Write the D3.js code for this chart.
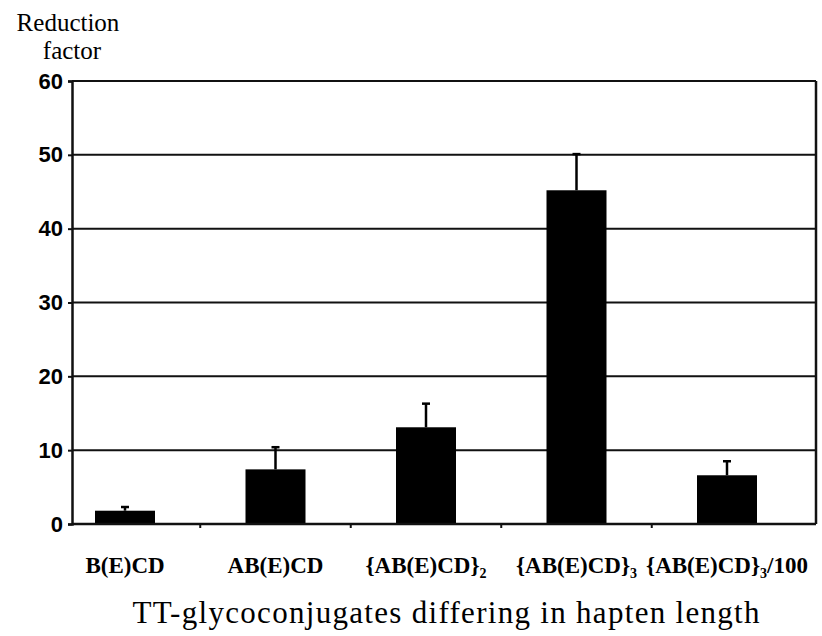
<!DOCTYPE html>
<html>
<head>
<meta charset="utf-8">
<script src="https://cdn.jsdelivr.net/npm/d3@7"></script>
<style>
  body { margin: 0; background: #fff; }
  svg { display: block; }
</style>
</head>
<body>
<div id="chart"></div>
<script>
"use strict";

// categories: base name + optional subscript + optional suffix
var categories = ["B(E)CD", "AB(E)CD", "{AB(E)CD}2", "{AB(E)CD}3", "{AB(E)CD}3/100"];
var labelMain = ["B(E)CD", "AB(E)CD", "{AB(E)CD}", "{AB(E)CD}", "{AB(E)CD}"];
var labelSub = ["", "", "2", "3", "3"];
var labelTail = ["", "", "", "", "/100"];
var means = [1.8, 7.4, 13.1, 45.2, 6.6];
var errors = [0.5, 3.0, 3.2, 4.9, 1.9];
var yTicks = [0, 10, 20, 30, 40, 50, 60];

var width = 822,
    height = 636,
    plotLeft = 72,
    plotRight = 816,
    plotTop = 81,
    plotBottom = 524,
    barWidth = 60;

var serif = "'Liberation Serif', 'Times New Roman', serif";

var svg = d3.select('#chart').append('svg')
  .attr('width', width)
  .attr('height', height);

var x = d3.scalePoint()
  .domain(categories)
  .range([125, 727]);

var y = d3.scaleLinear()
  .domain([0, 60])
  .range([plotBottom, plotTop]);

// gridlines
svg.append('g').selectAll('line')
  .data(yTicks.filter(function (d) { return d > 0; }))
  .enter().append('line')
    .attr('x1', plotLeft)
    .attr('x2', plotRight)
    .attr('y1', function (d) { return y(d); })
    .attr('y2', function (d) { return y(d); })
    .style('stroke', '#111')
    .style('stroke-width', 2);

// right border
svg.append('line')
  .attr('x1', plotRight).attr('x2', plotRight)
  .attr('y1', plotTop).attr('y2', plotBottom)
  .style('stroke', '#111')
  .style('stroke-width', 2.5);

// bars
svg.append('g').selectAll('rect')
  .data(means)
  .enter().append('rect')
    .attr('x', function (d, i) { return x(categories[i]) - barWidth / 2; })
    .attr('width', barWidth)
    .attr('y', function (d) { return y(d); })
    .attr('height', function (d) { return y(0) - y(d); })
    .style('fill', '#000');

// error bars (upper only)
var eb = svg.append('g').selectAll('g')
  .data(means)
  .enter().append('g');
eb.append('line')
  .attr('x1', function (d, i) { return x(categories[i]); })
  .attr('x2', function (d, i) { return x(categories[i]); })
  .attr('y1', function (d) { return y(d); })
  .attr('y2', function (d, i) { return y(d + errors[i]); })
  .style('stroke', '#000')
  .style('stroke-width', 2.5);
eb.append('line')
  .attr('x1', function (d, i) { return x(categories[i]) - 4; })
  .attr('x2', function (d, i) { return x(categories[i]) + 4; })
  .attr('y1', function (d, i) { return y(d + errors[i]); })
  .attr('y2', function (d, i) { return y(d + errors[i]); })
  .style('stroke', '#000')
  .style('stroke-width', 2.5);

// y axis
var yAxis = svg.append('g')
  .attr('transform', 'translate(' + plotLeft + ',0)')
  .call(d3.axisLeft(y).tickValues(yTicks).tickSize(4).tickPadding(5).tickFormat(d3.format('d')));
yAxis.select('.domain').style('stroke', '#111').style('stroke-width', 2.5);
yAxis.selectAll('.tick line').style('stroke', '#111').style('stroke-width', 2);
yAxis.selectAll('text')
  .style('font-family', "'Liberation Sans', Arial, sans-serif")
  .style('font-weight', 'bold')
  .style('font-size', '22px')
  .style('fill', '#000');

// x axis
var xAxis = svg.append('g')
  .attr('transform', 'translate(0,' + plotBottom + ')')
  .call(d3.axisBottom(x).tickSize(0).tickFormat(''));
xAxis.select('.domain').attr('d', 'M' + plotLeft + ',0H' + plotRight)
  .style('stroke', '#111').style('stroke-width', 2.5);

// small tick marks between categories
svg.append('g').selectAll('line')
  .data(categories.slice(1))
  .enter().append('line')
    .attr('x1', function (d) { return x(d) - x.step() / 2; })
    .attr('x2', function (d) { return x(d) - x.step() / 2; })
    .attr('y1', plotBottom)
    .attr('y2', plotBottom + 4)
    .style('stroke', '#111')
    .style('stroke-width', 2);

// category labels
var lab = svg.append('g').selectAll('text')
  .data(categories)
  .enter().append('text')
    .attr('x', function (d) { return x(d); })
    .attr('y', 573)
    .attr('text-anchor', 'middle')
    .style('font-family', serif)
    .style('font-weight', 'bold')
    .style('font-size', '23px');
lab.append('tspan').text(function (d, i) { return labelMain[i]; });
lab.append('tspan')
  .attr('dy', 5)
  .style('font-size', '14px')
  .text(function (d, i) { return labelSub[i]; });
lab.append('tspan')
  .attr('dy', -5)
  .text(function (d, i) { return labelTail[i]; });

// axis titles
svg.append('text')
  .attr('x', 446)
  .attr('y', 623)
  .attr('text-anchor', 'middle')
  .attr('textLength', 627)
  .attr('lengthAdjust', 'spacing')
  .style('font-family', serif)
  .style('font-size', '31px')
  .text('TT-glycoconjugates differing in hapten length');

svg.append('text')
  .attr('x', 68)
  .attr('y', 31)
  .attr('text-anchor', 'middle')
  .style('font-family', serif)
  .style('font-size', '25px')
  .text('Reduction');
svg.append('text')
  .attr('x', 72)
  .attr('y', 59)
  .attr('text-anchor', 'middle')
  .style('font-family', serif)
  .style('font-size', '25px')
  .text('factor');
</script>
</body>
</html>
